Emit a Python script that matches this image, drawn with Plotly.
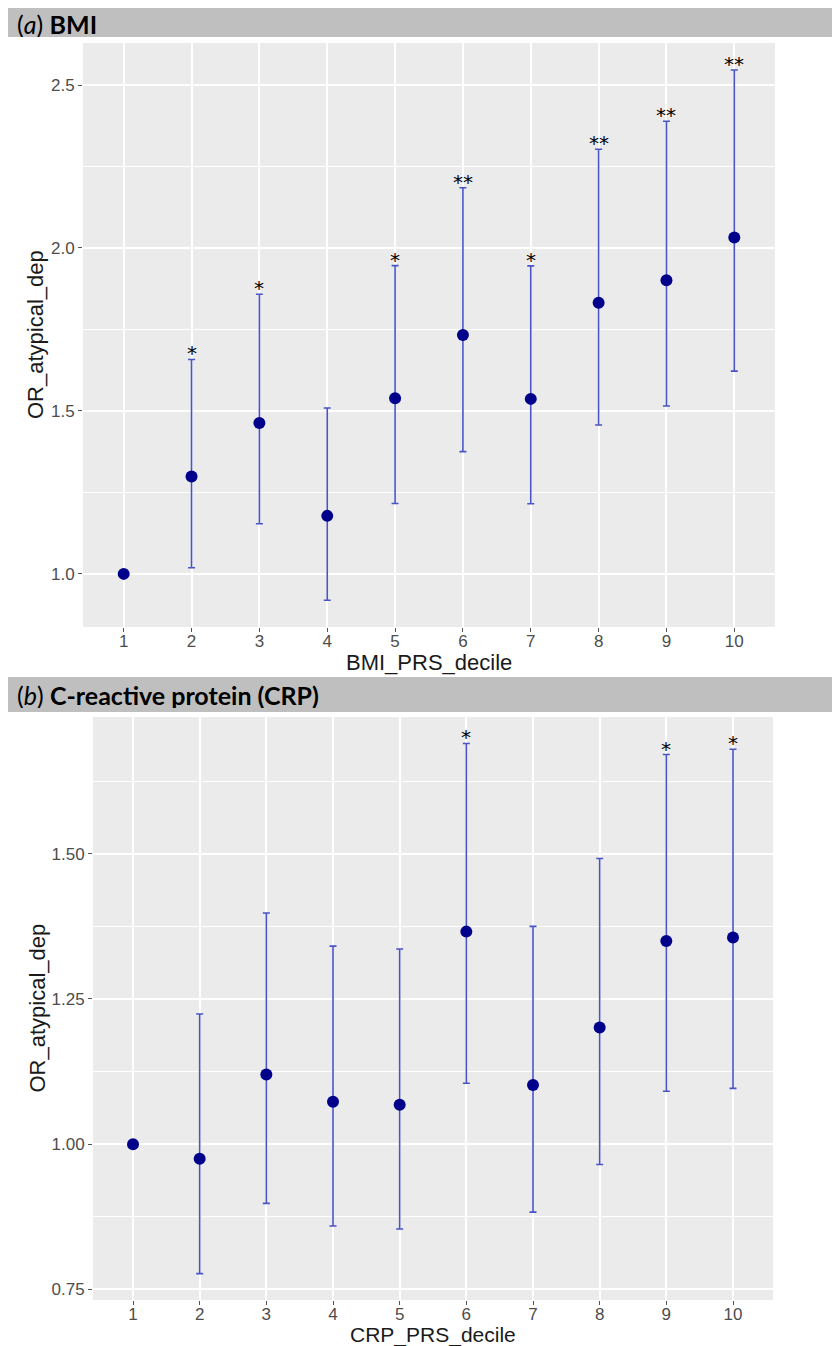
"""
Odds of atypical depression by polygenic risk score decile (BMI and CRP).
"""
import plotly.graph_objects as go

# --- data ---
deciles = list(range(1, 11))

bmi_or = [1.0, 1.299, 1.463, 1.178, 1.539, 1.733, 1.537, 1.832, 1.901, 2.032]
bmi_lower = [1.0, 1.019, 1.154, 0.919, 1.216, 1.375, 1.215, 1.457, 1.515, 1.622]
bmi_upper = [1.0, 1.658, 1.858, 1.509, 1.946, 2.185, 1.945, 2.303, 2.389, 2.546]
bmi_sig = ["", "*", "*", "", "*", "**", "*", "**", "**", "**"]

crp_or = [1.0, 0.975, 1.120, 1.073, 1.068, 1.366, 1.102, 1.201, 1.350, 1.356]
crp_lower = [1.0, 0.777, 0.898, 0.859, 0.854, 1.105, 0.883, 0.965, 1.091, 1.096]
crp_upper = [1.0, 1.224, 1.398, 1.341, 1.336, 1.690, 1.375, 1.492, 1.671, 1.680]
crp_sig = ["", "", "", "", "", "*", "", "", "*", "*"]

# page body adds an 8px margin, so the figure is a bit smaller than the window
PAGE_PAD = 8
W, H = 840 - PAGE_PAD, 1346 - PAGE_PAD
colors = {
    'panel': '#EBEBEB',
    'grid': '#FFFFFF',
    'header': '#BFBFBF',
    'point': '#00008B',
    'errbar': '#4A54C6',
    'tick': '#4D4D4D',
    'title': '#1a1a1a',
}


def px_x(x):
    # window pixel -> paper x
    return (x - PAGE_PAD) / W


def px_y(y):
    # window pixel -> paper y
    return 1 - (y - PAGE_PAD) / H


fig = go.Figure()

panels = [
    # (axis suffix, values, lower, upper, stars)
    ("", bmi_or, bmi_lower, bmi_upper, bmi_sig),
    ("2", crp_or, crp_lower, crp_upper, crp_sig),
]

for suffix, vals, lo, hi, sig in panels:
    fig.add_trace(go.Scatter(
        x=deciles,
        y=vals,
        mode="markers",
        marker=dict(color=colors['point'], size=12),
        error_y=dict(
            type="data",
            symmetric=False,
            array=[u - v for u, v in zip(hi, vals)],
            arrayminus=[v - l for v, l in zip(vals, lo)],
            color=colors['errbar'],
            thickness=1.6,
            width=3.5,
        ),
        xaxis="x" + suffix,
        yaxis="y" + suffix,
        showlegend=False,
        hoverinfo="skip",
    ))
    # significance stars above the upper CI
    for d, u, s in zip(deciles, hi, sig):
        if s:
            fig.add_annotation(
                x=d, y=u, text=s,
                xref="x" + suffix, yref="y" + suffix,
                showarrow=False, yanchor="middle", yshift=6,
                font=dict(family="DejaVu Sans", size=20, color="black"),
            )

axis_common = dict(
    showgrid=True,
    gridcolor=colors['grid'],
    gridwidth=1.5,
    zeroline=False,
    showline=False,
    ticks="outside",
    ticklen=4,
    tickwidth=1,
    tickcolor="#555555",
    tickfont=dict(family="Liberation Sans, Arial", size=17, color=colors['tick']),
)

fig.update_layout(
    width=W,
    height=H,
    margin=dict(l=0, r=0, t=0, b=0),
    paper_bgcolor="white",
    plot_bgcolor=colors['panel'],
    font=dict(family="Liberation Sans, Arial"),
    xaxis=dict(
        axis_common,
        domain=[px_x(83), px_x(775)],
        range=[0.4, 10.6],
        tickvals=deciles,
        ticklabelstandoff=-5,
        anchor="y",
    ),
    yaxis=dict(
        axis_common,
        domain=[px_y(627), px_y(43)],
        range=[0.837, 2.629],
        tickvals=[1.0, 1.5, 2.0, 2.5],
        tickformat=".1f",
        minor=dict(tickvals=[1.25, 1.75, 2.25], showgrid=True,
                   gridcolor=colors['grid'], gridwidth=0.7, ticks=""),
        anchor="x",
    ),
    xaxis2=dict(
        axis_common,
        domain=[px_x(93), px_x(773)],
        range=[0.4, 10.6],
        tickvals=deciles,
        ticklabelstandoff=-5,
        anchor="y2",
    ),
    yaxis2=dict(
        axis_common,
        domain=[px_y(1300), px_y(717)],
        range=[0.7316, 1.7356],
        tickvals=[0.75, 1.0, 1.25, 1.5],
        tickformat=".2f",
        minor=dict(tickvals=[0.875, 1.125, 1.375, 1.625], showgrid=True,
                   gridcolor=colors['grid'], gridwidth=0.7, ticks=""),
        anchor="x2",
    ),
)

# --- axis titles (placed by hand, like ggplot) ---
axis_titles = [
    # text, x px, y px, angle, font size
    ("BMI_PRS_decile", (83 + 775) / 2, 662, 0, 22),
    ("OR_atypical_dep", 35, (43 + 627) / 2, -90, 22),
    ("CRP_PRS_decile", (93 + 773) / 2, 1335, 0, 21),
    ("OR_atypical_dep", 37, (717 + 1300) / 2, -90, 22),
]
for text, x, y, angle, size in axis_titles:
    fig.add_annotation(
        x=px_x(x), y=px_y(y), xref="paper", yref="paper",
        xanchor="center", yanchor="middle", textangle=angle,
        text=text, showarrow=False,
        font=dict(family="Liberation Sans, Arial", size=size, color=colors['title']),
    )

# --- panel header strips ---
headers = [
    ("(<i>a</i>) <b>BMI</b>", 3, 37),
    ("(<i>b</i>) <b>C-reactive protein (CRP)</b>", 677, 712),
]
for text, top, bottom in headers:
    fig.add_shape(
        type="rect", xref="paper", yref="paper",
        x0=px_x(8), x1=px_x(840), y0=px_y(bottom), y1=px_y(top),
        fillcolor=colors['header'], line=dict(width=0), layer="below",
    )
    fig.add_annotation(
        x=px_x(15), y=px_y(max(top, 9) / 2 + bottom / 2 + 1),
        xref="paper", yref="paper",
        xanchor="left", yanchor="middle", height=26,
        text=text, showarrow=False,
        font=dict(family="Lato", size=25, color="black"),
    )

fig.write_html("out.html")
